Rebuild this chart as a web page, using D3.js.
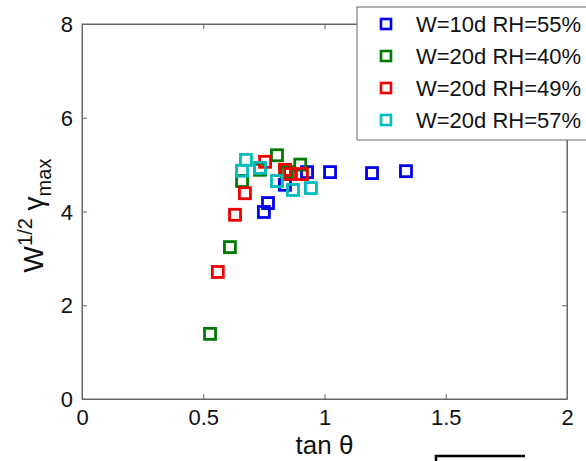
<!DOCTYPE html>
<html><head><meta charset="utf-8">
<script src="https://cdn.jsdelivr.net/npm/d3@7"></script>
<style>body{margin:0;background:#fff;} svg{display:block;font-family:"Liberation Sans",Arial,sans-serif;}</style>
</head><body>
<script>
const seriesNames = ["W=10d RH=55%","W=20d RH=40%","W=20d RH=49%","W=20d RH=57%"];
const seriesColors = ["#0000ee","#007a00","#ee0000","#00bcbc"];
const blueX = [0.75,0.767,0.837,0.928,1.023,1.196,1.336];
const blueY = [3.99,4.18,4.57,4.84,4.84,4.82,4.86];
const greenX = [0.528,0.61,0.66,0.734,0.804,0.845,0.90];
const greenY = [1.39,3.24,4.65,4.89,5.20,4.84,5.00];
const redX = [0.56,0.631,0.672,0.755,0.837,0.858,0.907];
const redY = [2.71,3.93,4.39,5.06,4.89,4.80,4.80];
const cyanX = [0.66,0.676,0.734,0.804,0.87,0.944];
const cyanY = [4.87,5.10,4.93,4.65,4.46,4.50];
const xTicks = [0,0.5,1,1.5,2];
const yTicks = [0,2,4,6,8];

const W=586,H=461;
const L=82,R=567,T=24,B=399;
const svg=d3.select("body").append("svg").attr("width",W).attr("height",H);
const x=d3.scaleLinear().domain([0,2]).range([L,R]);
const y=d3.scaleLinear().domain([0,8]).range([B,T]);
const axCol="#666";

svg.append("rect").attr("x",L).attr("y",T).attr("width",R-L).attr("height",B-T)
  .attr("fill","none").attr("stroke",axCol).attr("stroke-width",1);

const xa=svg.append("g").attr("transform",`translate(0,${B})`)
  .call(d3.axisBottom(x).tickValues(xTicks).tickFormat(d3.format("")).tickSizeInner(-5).tickSizeOuter(0).tickPadding(10));
const xa2=svg.append("g").attr("transform",`translate(0,${T})`)
  .call(d3.axisTop(x).tickValues(xTicks).tickFormat("").tickSizeInner(-5).tickSizeOuter(0));
const ya=svg.append("g").attr("transform",`translate(${L},0)`)
  .call(d3.axisLeft(y).tickValues(yTicks).tickFormat(d3.format("")).tickSizeInner(-5).tickSizeOuter(0).tickPadding(9));
const ya2=svg.append("g").attr("transform",`translate(${R},0)`)
  .call(d3.axisRight(y).tickValues(yTicks).tickFormat("").tickSizeInner(-5).tickSizeOuter(0));
[xa,xa2,ya,ya2].forEach(g=>{
  g.select(".domain").attr("stroke",axCol);
  g.selectAll(".tick line").attr("stroke",axCol);
  g.selectAll("text").attr("fill","#111").style("font-size","22px").style("font-family","Liberation Sans, Arial, sans-serif");
});
ya.selectAll("text").attr("dy","0.35em");
xa.selectAll("text").attr("dy","0.72em");

const sets=[[blueX,blueY],[greenX,greenY],[redX,redY],[cyanX,cyanY]];
const s=11;
sets.forEach((d,i)=>{
  const pts=d[0].map((v,j)=>[v,d[1][j]]);
  svg.append("g").selectAll("rect").data(pts).join("rect")
    .attr("x",p=>x(p[0])-s/2).attr("y",p=>y(p[1])-s/2)
    .attr("width",s).attr("height",s)
    .attr("fill","none").attr("stroke",seriesColors[i]).attr("stroke-width",2.8);
});

svg.append("text").attr("x",x(1)).attr("y",454).attr("text-anchor","middle")
  .style("font-size","26px").attr("fill","#111").text("tan θ");
const yl=svg.append("text").attr("transform",`translate(43,${(T+B)/2+4}) rotate(-90)`)
  .attr("text-anchor","middle").style("font-size","28px").attr("fill","#111");
yl.append("tspan").text("W");
yl.append("tspan").attr("dy","-11").style("font-size","20px").text("1/2");
yl.append("tspan").attr("dy","11").text(" γ");
yl.append("tspan").attr("dy","8").style("font-size","20px").text("max");

const lg=svg.append("g");
lg.append("rect").attr("x",357).attr("y",7).attr("width",240).attr("height",133)
  .attr("fill","#fff").attr("stroke",axCol).attr("stroke-width",1);
seriesNames.forEach((n,i)=>{
  const cy=24+i*32;
  lg.append("rect").attr("x",386-5).attr("y",cy-5).attr("width",10).attr("height",10)
    .attr("fill","none").attr("stroke",seriesColors[i]).attr("stroke-width",2.6);
  lg.append("text").attr("x",416).attr("y",cy).attr("dy","0.36em")
    .style("font-size","22px").attr("fill","#111").text(n);
});

svg.append("path").attr("d","M436,461 L436,456 L525,456").attr("fill","none")
  .attr("stroke","#000").attr("stroke-width",2.5);
</script>
</body></html>
